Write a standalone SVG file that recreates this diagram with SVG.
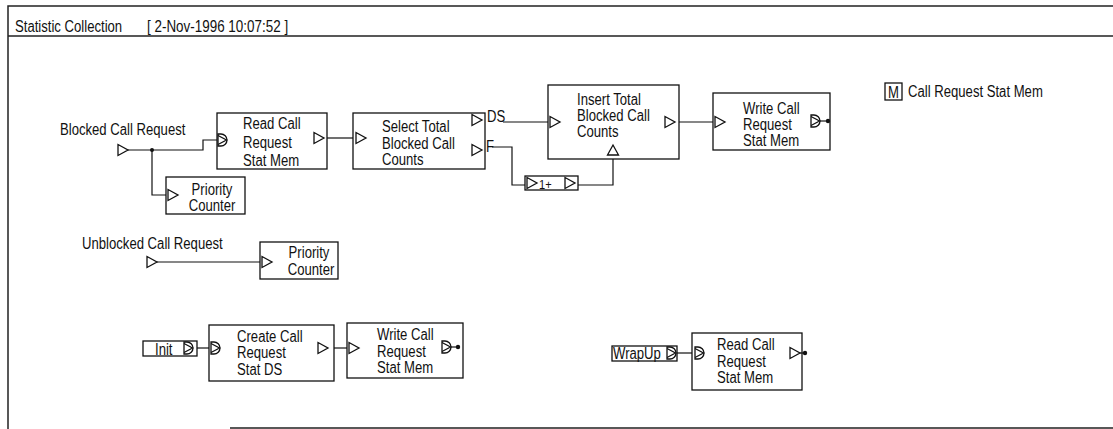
<svg xmlns="http://www.w3.org/2000/svg" xmlns:xlink="http://www.w3.org/1999/xlink" width="1113" height="429" viewBox="0 0 1113 429">
<style>
.t{font-family:"Liberation Sans",Arial,sans-serif;font-size:16px;fill:#111}
.box{fill:#fff;stroke:#111;stroke-width:1.3}
.frame{fill:none;stroke:#222;stroke-width:1.5}
.wire{fill:none;stroke:#111;stroke-width:1.2}
.mk{fill:#fff;stroke:#111;stroke-width:1.3;stroke-linejoin:miter}
.dot{fill:#111}
</style>
<defs>
<path id="tri" class="mk" d="M0,-5.5 L10,0 L0,5.5 Z"/>
<path id="triup" class="mk" d="M-5.5,5 L0,-5 L5.5,5 Z"/>
<g id="din"><path class="mk" d="M0,-6 V6 H3 A6,6 0 0 0 3,-6 Z"/><path class="mk" d="M0,-4.5 L8.5,0 L0,4.5" style="fill:none"/></g>
</defs>

<g id="frame">
<path class="frame" d="M8,429 V6 H1113 M8,36 H1113 M230,428 H1113"/>
<text class="t" transform="translate(15,32) scale(.82,1)">Statistic Collection</text>
<text class="t" transform="translate(147,32) scale(.84,1)">[ 2-Nov-1996 10:07:52 ]</text>
</g>

<g id="connectors">
<path class="wire" d="M128,150 H203 V140 H218"/>
<circle class="dot" cx="152" cy="150" r="2"/>
<path class="wire" d="M152,150 V195 H166"/>
<path class="wire" d="M324,138 H356"/>
<path class="wire" d="M503,122 H550"/>
<path class="wire" d="M492,147 H512 V185 H525"/>
<path class="wire" d="M578,185 H613 V159"/>
<path class="wire" d="M675,122 H715"/>
<path class="wire" d="M157,262 H262"/>
<path class="wire" d="M195,348 H211"/>
<path class="wire" d="M328,348 H349"/>
<path class="wire" d="M677,353 H695"/>
</g>

<g id="blocked-call-request">
<text class="t" transform="translate(60,135) scale(.82,1)">Blocked Call Request</text>
<use xlink:href="#tri" x="118" y="150"/>
</g>

<g id="read-call-request-stat-mem-1">
<rect class="box" x="217" y="113" width="110" height="56"/>
<use xlink:href="#din" x="218" y="140"/>
<use xlink:href="#tri" x="314" y="138"/>
<text class="t" transform="translate(243,129) scale(.82,1)">Read Call</text>
<text class="t" transform="translate(243,148) scale(.82,1)">Request</text>
<text class="t" transform="translate(243,166) scale(.82,1)">Stat Mem</text>
</g>

<g id="priority-counter-1">
<rect class="box" x="166" y="177" width="79" height="37"/>
<use xlink:href="#tri" x="168" y="195"/>
<text class="t" text-anchor="middle" transform="translate(212,195) scale(.82,1)">Priority</text>
<text class="t" text-anchor="middle" transform="translate(212,211) scale(.82,1)">Counter</text>
</g>

<g id="select-total-blocked-call-counts">
<rect class="box" x="353" y="113" width="132" height="56"/>
<use xlink:href="#tri" x="356" y="138"/>
<use xlink:href="#tri" x="472" y="120"/>
<use xlink:href="#tri" x="472" y="150"/>
<text class="t" transform="translate(382,132) scale(.82,1)">Select Total</text>
<text class="t" transform="translate(382,149) scale(.82,1)">Blocked Call</text>
<text class="t" transform="translate(382,165) scale(.82,1)">Counts</text>
<text class="t" transform="translate(487,122) scale(.82,1)">DS</text>
<text class="t" transform="translate(486,152) scale(.82,1)">F</text>
</g>

<g id="increment">
<rect class="box" x="525" y="176" width="53" height="14"/>
<use xlink:href="#tri" x="527" y="183"/>
<use xlink:href="#tri" x="565" y="183"/>
<text class="t" style="font-size:13px" transform="translate(539,189) scale(.85,1)">1+</text>
</g>

<g id="insert-total-blocked-call-counts">
<rect class="box" x="548" y="85" width="131" height="74"/>
<use xlink:href="#tri" x="550" y="122"/>
<use xlink:href="#tri" x="665" y="122"/>
<use xlink:href="#triup" x="613" y="150"/>
<text class="t" transform="translate(577,105) scale(.82,1)">Insert Total</text>
<text class="t" transform="translate(577,121) scale(.82,1)">Blocked Call</text>
<text class="t" transform="translate(577,137) scale(.82,1)">Counts</text>
</g>

<g id="write-call-request-stat-mem-1">
<rect class="box" x="713" y="93" width="117" height="57"/>
<use xlink:href="#tri" x="715" y="122"/>
<use xlink:href="#din" x="811" y="121"/>
<path class="wire" d="M820,121 H828"/>
<circle class="dot" cx="828" cy="121" r="2.2"/>
<text class="t" transform="translate(743,114) scale(.82,1)">Write Call</text>
<text class="t" transform="translate(743,130) scale(.82,1)">Request</text>
<text class="t" transform="translate(743,146) scale(.82,1)">Stat Mem</text>
</g>

<g id="legend">
<rect class="box" x="885" y="83" width="17" height="17"/>
<text class="t" text-anchor="middle" transform="translate(893.5,98) scale(.82,1)">M</text>
<text class="t" transform="translate(908,97) scale(.82,1)">Call Request Stat Mem</text>
</g>

<g id="unblocked-call-request">
<text class="t" transform="translate(82,249) scale(.82,1)">Unblocked Call Request</text>
<use xlink:href="#tri" x="147" y="262"/>
</g>

<g id="priority-counter-2">
<rect class="box" x="260" y="242" width="78" height="37"/>
<use xlink:href="#tri" x="262" y="262"/>
<text class="t" text-anchor="middle" transform="translate(309,258) scale(.82,1)">Priority</text>
<text class="t" text-anchor="middle" transform="translate(311,275) scale(.82,1)">Counter</text>
</g>

<g id="init">
<rect class="box" x="143" y="341" width="54" height="15"/>
<text class="t" transform="translate(155,355) scale(.82,1)">Init</text>
<use xlink:href="#din" x="184" y="348"/>
</g>

<g id="create-call-request-stat-ds">
<rect class="box" x="209" y="325" width="125" height="56"/>
<use xlink:href="#din" x="211" y="348"/>
<use xlink:href="#tri" x="318" y="348"/>
<text class="t" transform="translate(237,342) scale(.82,1)">Create Call</text>
<text class="t" transform="translate(237,358) scale(.82,1)">Request</text>
<text class="t" transform="translate(237,375) scale(.82,1)">Stat DS</text>
</g>

<g id="write-call-request-stat-mem-2">
<rect class="box" x="347" y="323" width="116" height="55"/>
<use xlink:href="#tri" x="349" y="348"/>
<use xlink:href="#din" x="442" y="347"/>
<path class="wire" d="M451,347 H458"/>
<circle class="dot" cx="458" cy="347" r="2.2"/>
<text class="t" transform="translate(377,340) scale(.82,1)">Write Call</text>
<text class="t" transform="translate(377,357) scale(.82,1)">Request</text>
<text class="t" transform="translate(377,373) scale(.82,1)">Stat Mem</text>
</g>

<g id="wrapup">
<rect class="box" x="612" y="346" width="65" height="15"/>
<text class="t" transform="translate(613,359) scale(.82,1)">WrapUp</text>
<use xlink:href="#din" x="667" y="353"/>
</g>

<g id="read-call-request-stat-mem-2">
<rect class="box" x="692" y="333" width="110" height="57"/>
<use xlink:href="#din" x="695" y="353"/>
<use xlink:href="#tri" x="790" y="353"/>
<path class="wire" d="M800,353 H805"/>
<circle class="dot" cx="805" cy="353" r="2.2"/>
<text class="t" transform="translate(717,350) scale(.82,1)">Read Call</text>
<text class="t" transform="translate(717,367) scale(.82,1)">Request</text>
<text class="t" transform="translate(717,383) scale(.82,1)">Stat Mem</text>
</g>
</svg>
